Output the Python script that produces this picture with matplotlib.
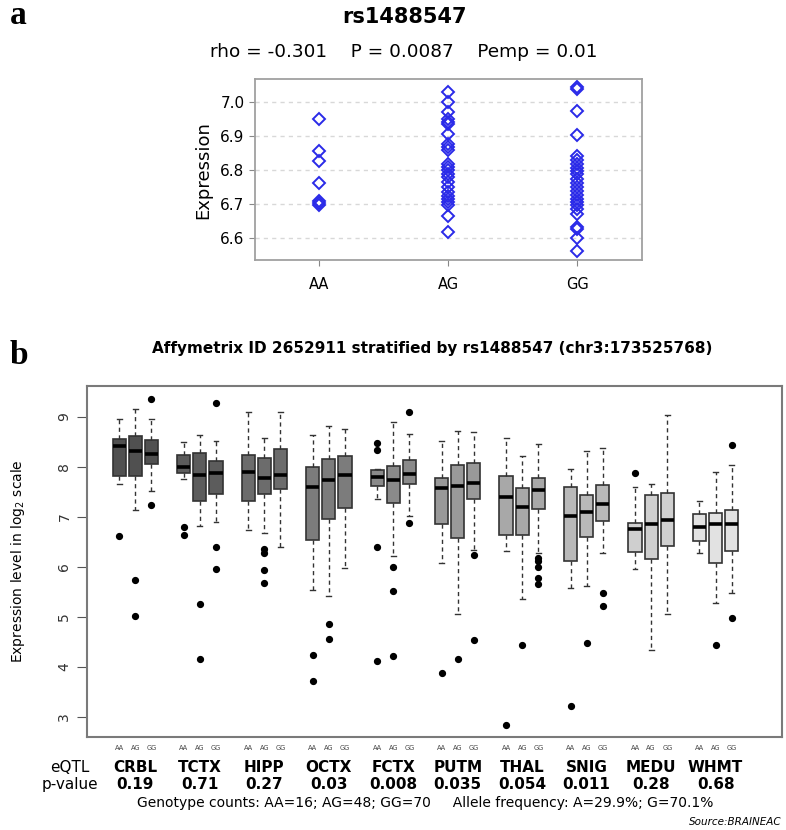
import matplotlib
matplotlib.use("Agg")
import matplotlib.pyplot as plt
import numpy as np

# ---- panel a: expression by genotype ----
genotypes = ["AA", "AG", "GG"]
expr_AA = [6.951, 6.855, 6.826, 6.762, 6.710, 6.703, 6.697]
expr_AG = [7.029, 7.000, 6.971, 6.951, 6.941, 6.934, 6.907, 6.877, 6.868, 6.858,
           6.819, 6.809, 6.799, 6.789, 6.779, 6.765, 6.750, 6.735, 6.725, 6.716,
           6.706, 6.696, 6.665, 6.617]
expr_GG = [7.042, 7.038, 6.974, 6.902, 6.840, 6.828, 6.817, 6.806, 6.797, 6.787,
           6.775, 6.762, 6.750, 6.738, 6.727, 6.716, 6.706, 6.696, 6.686, 6.672,
           6.634, 6.626, 6.600, 6.562]

# ---- panel b: boxplots per brain region ----
regions = ["CRBL", "TCTX", "HIPP", "OCTX", "FCTX", "PUTM", "THAL", "SNIG", "MEDU", "WHMT"]
pvalues = ["0.19", "0.71", "0.27", "0.03", "0.008", "0.035", "0.054", "0.011", "0.28", "0.68"]
region_colors = ["#505050", "#5c5c5c", "#6c6c6c", "#7c7c7c", "#8a8a8a",
                 "#999999", "#a8a8a8", "#b9b9b9", "#cfcfcf", "#e2e2e2"]

# order: region x (AA, AG, GG)
whishi = [8.95, 9.15, 8.95, 8.50, 8.63, 8.52, 9.10, 8.58, 9.10, 8.63, 8.81, 8.76,
          7.95, 8.89, 8.66, 8.51, 8.72, 8.70, 8.58, 8.21, 8.45, 7.95, 8.32, 8.38,
          7.60, 7.65, 9.04, 7.32, 7.89, 8.03]
q3 = [8.56, 8.61, 8.53, 8.23, 8.27, 8.12, 8.24, 8.17, 8.36, 7.99, 8.15, 8.21,
      7.93, 8.02, 8.14, 7.78, 8.03, 8.07, 7.81, 7.58, 7.78, 7.59, 7.44, 7.63,
      6.88, 7.44, 7.47, 7.05, 7.07, 7.13]
med = [8.41, 8.32, 8.26, 8.00, 7.84, 7.88, 7.89, 7.77, 7.83, 7.60, 7.73, 7.84,
       7.79, 7.73, 7.86, 7.57, 7.62, 7.67, 7.40, 7.19, 7.53, 7.02, 7.10, 7.26,
       6.75, 6.85, 6.94, 6.79, 6.85, 6.85]
q1 = [7.81, 7.81, 8.05, 7.87, 7.32, 7.45, 7.32, 7.46, 7.55, 6.54, 6.96, 7.17,
      7.62, 7.28, 7.65, 6.85, 6.57, 7.36, 6.64, 6.63, 7.16, 6.12, 6.59, 6.92,
      6.30, 6.16, 6.41, 6.52, 6.07, 6.31]
whislo = [7.66, 7.13, 7.51, 7.75, 6.81, 6.89, 6.74, 6.68, 6.40, 5.54, 5.41, 5.98,
          7.35, 6.22, 7.01, 6.08, 5.06, 6.33, 6.32, 5.36, 6.28, 5.58, 5.61, 6.28,
          5.95, 4.33, 5.05, 6.28, 5.28, 5.47]
outliers = [[6.62], [5.74, 5.01], [9.35, 7.23],
            [6.80, 6.64], [5.26, 4.16], [9.28, 6.40, 5.96],
            [], [6.36, 6.28, 5.94, 5.67], [],
            [4.24, 3.72], [4.85, 4.56], [],
            [8.48, 8.34, 6.40, 4.12], [6.00, 5.52, 4.21], [9.09, 6.87],
            [3.88], [4.16], [6.24, 4.53],
            [2.83], [4.44], [6.17, 6.12, 6.00, 5.77, 5.65],
            [3.21], [4.48], [5.47, 5.21],
            [7.88], [], [],
            [], [4.43], [8.43, 4.98]]

fig = plt.figure(figsize=(7.86, 8.3), dpi=100)

# panel a
ax1 = fig.add_axes([255 / 786, 1 - 260 / 830, 386.7 / 786, 180.7 / 830])
for i, vals in enumerate([expr_AA, expr_AG, expr_GG]):
    ax1.plot([i + 1] * len(vals), vals, linestyle="none", marker="D", ms=6.5,
             mfc="none", mec="#2a2ae8", mew=1.4)
ax1.set_xlim(0.5, 3.5)
ax1.set_ylim(6.536, 7.066)
ax1.set_yticks([6.6, 6.7, 6.8, 6.9, 7.0])
ax1.set_yticklabels(["6.6", "6.7", "6.8", "6.9", "7.0"], fontsize=11)
ax1.set_xticks([1, 2, 3])
ax1.set_xticklabels(genotypes, fontsize=10.5)
ax1.tick_params(colors="#888888", labelcolor="black", length=4)
ax1.tick_params(axis="x", pad=8)
ax1.yaxis.grid(True, linestyle=(0, (3, 3)), color="#d8d8d8", lw=1)
ax1.set_axisbelow(True)
for s in ax1.spines.values():
    s.set_color("#a0a0a0")
    s.set_linewidth(1.3)
ax1.set_ylabel("Expression", fontsize=13, labelpad=6)
fig.text(404 / 786, 1 - 17 / 830, "rs1488547", ha="center", va="center",
         fontsize=15, fontweight="bold")
fig.text(404 / 786, 1 - 52 / 830, "rho = -0.301    P = 0.0087    Pemp = 0.01",
         ha="center", va="center", fontsize=13.3)
fig.text(10 / 786, 1 - 15 / 830, "a", fontsize=24, fontweight="bold",
         family="Liberation Serif", va="center")

# panel b
ax2 = fig.add_axes([86.7 / 786, 1 - 736.7 / 830, 695 / 786, 350.7 / 830])
stats = []
positions = []
for k in range(len(med)):
    g, j = divmod(k, 3)
    positions.append(4 * g + j)
    stats.append(dict(med=med[k], q1=q1[k], q3=q3[k], whislo=whislo[k],
                      whishi=whishi[k], fliers=outliers[k]))
bp = ax2.bxp(stats, positions=positions, widths=0.82, patch_artist=True,
             showfliers=True,
             boxprops=dict(edgecolor="#333333", linewidth=1.2),
             medianprops=dict(color="black", linewidth=2.6),
             whiskerprops=dict(color="#333333", linestyle=(0, (3, 2.5)), linewidth=1),
             capprops=dict(color="#333333", linewidth=1),
             capwidths=0.3,
             flierprops=dict(marker="o", markerfacecolor="black", markeredgecolor="black",
                             markersize=4.2))
for k, patch in enumerate(bp["boxes"]):
    patch.set_facecolor(region_colors[k // 3])

ax2.set_xlim(-2.02, 41.1)
ax2.set_ylim(2.6, 9.614)
ax2.set_xticks([])
ax2.set_yticks([3, 4, 5, 6, 7, 8, 9])
ax2.set_yticklabels(["3", "4", "5", "6", "7", "8", "9"], rotation=90, va="center",
                    fontsize=10, color="#333333")
ax2.tick_params(axis="y", length=7, color="#555555", pad=4)
for s in ax2.spines.values():
    s.set_color("#7a7a7a")
    s.set_linewidth(1.5)
ax2.set_ylabel("Expression level in log$_2$ scale", fontsize=10, labelpad=22)

fig.text(432 / 786, 1 - 348 / 830,
         "Affymetrix ID 2652911 stratified by rs1488547 (chr3:173525768)",
         ha="center", va="center", fontsize=11, fontweight="bold")
fig.text(10 / 786, 1 - 355 / 830, "b", fontsize=24, fontweight="bold",
         family="Liberation Serif", va="center")

# labels under the boxes
for k, p in enumerate(positions):
    ax2.text(p, 2.6 - 0.22, genotypes[k % 3], ha="center", va="center",
             fontsize=4.8, color="#444444", clip_on=False)
for g, name in enumerate(regions):
    ax2.text(4 * g + 1, 2.6 - 0.62, name, ha="center", va="center",
             fontsize=11, fontweight="bold", clip_on=False)
    ax2.text(4 * g + 1, 2.6 - 0.95, pvalues[g], ha="center", va="center",
             fontsize=11, fontweight="bold", clip_on=False)
fig.text(70 / 786, 1 - 767 / 830, "eQTL", ha="center", va="center", fontsize=11)
fig.text(70 / 786, 1 - 784 / 830, "p-value", ha="center", va="center", fontsize=11)
fig.text(425 / 786, 1 - 803 / 830,
         "Genotype counts: AA=16; AG=48; GG=70     Allele frequency: A=29.9%; G=70.1%",
         ha="center", va="center", fontsize=10)
fig.text(782 / 786, 1 - 822 / 830, "Source:BRAINEAC", ha="right", va="center",
         fontsize=7.5, style="italic")

fig.savefig("out.png", dpi=100)
